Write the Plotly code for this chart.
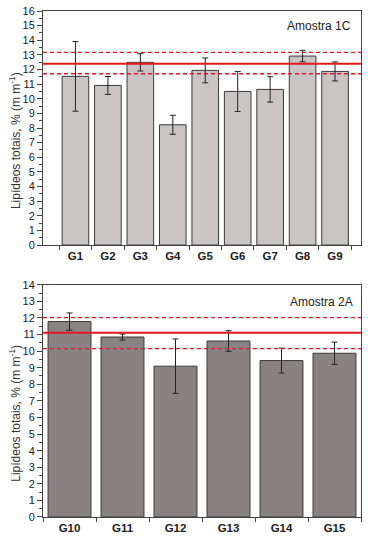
import plotly.graph_objects as go

# ---- data ----
cats_1c = ["G1", "G2", "G3", "G4", "G5", "G6", "G7", "G8", "G9"]
vals_1c = [11.53, 10.91, 12.49, 8.22, 11.94, 10.50, 10.64, 12.92, 11.87]
err_1c = [2.38, 0.61, 0.59, 0.65, 0.85, 1.37, 0.87, 0.39, 0.65]
ref_1c = [12.40, 13.17, 11.71]  # mean, upper, lower

cats_2a = ["G10", "G11", "G12", "G13", "G14", "G15"]
vals_2a = [11.78, 10.85, 9.09, 10.61, 9.43, 9.87]
err_2a = [0.52, 0.18, 1.64, 0.62, 0.75, 0.67]
ref_2a = [11.11, 12.02, 10.15]

labels = ["Amostra 1C", "Amostra 2A"]
ytitle = "Lipídeos totais, % (m m<sup>-1</sup>)"

FONT = "Liberation Sans, Arial, sans-serif"
RED = "#E8161C"
AX = "#444444"

fig = go.Figure()

fig.add_trace(go.Bar(
    x=cats_1c, y=vals_1c, xaxis="x", yaxis="y", width=0.82,
    marker=dict(color="#C9C5C5", line=dict(color="#3a3a3a", width=1)),
    error_y=dict(type="data", array=err_1c, color="#222222", thickness=1, width=3),
    showlegend=False))
fig.add_trace(go.Bar(
    x=cats_2a, y=vals_2a, xaxis="x2", yaxis="y2", width=0.81,
    marker=dict(color="#888382", line=dict(color="#3a3a3a", width=1)),
    error_y=dict(type="data", array=err_2a, color="#222222", thickness=1, width=3),
    showlegend=False))

def ref_lines(refs, xr, yr):
    shapes = []
    for i, v in enumerate(refs):
        shapes.append(dict(
            type="line", xref=xr + " domain", yref=yr, x0=0, x1=1, y0=v, y1=v,
            line=dict(color=RED, width=2 if i == 0 else 1.3,
                      dash="solid" if i == 0 else "4px,3px"),
            layer="above"))
    return shapes

shapes = ref_lines(ref_1c, "x", "y") + ref_lines(ref_2a, "x2", "y2")

common_x = dict(type="category", showline=True, linecolor=AX, linewidth=1, mirror=True,
                ticks="outside", ticklen=4, tickcolor=AX, tickson="boundaries",
                tickfont=dict(family=FONT, size=11.5, color="#222222", weight="bold"),
                showgrid=False, zeroline=False, automargin=False)
common_y = dict(showline=True, linecolor=AX, linewidth=1, mirror=True,
                ticks="outside", ticklen=5, tickcolor=AX, dtick=1,
                minor=dict(ticks="outside", ticklen=3, dtick=0.5, tickcolor=AX),
                tickfont=dict(family=FONT, size=11, color="#222222"),
                showgrid=False, zeroline=False, automargin=False)

title_font = dict(family=FONT, size=12, color="#333333")

fig.update_layout(
    width=368, height=541,
    margin=dict(l=43, r=7, t=11, b=24),
    paper_bgcolor="white", plot_bgcolor="white",
    xaxis=dict(common_x, domain=[0, 1], range=[-1, 8.8], anchor="y"),
    yaxis=dict(common_y, domain=[0.5375, 1.0], range=[0, 16], anchor="x"),
    xaxis2=dict(common_x, domain=[0, 1], range=[-0.5, 5.5], anchor="y2"),
    yaxis2=dict(common_y, domain=[0, 0.459], range=[0, 14], anchor="x2"),
    shapes=shapes,
    annotations=[
        dict(text=labels[0], xref="x domain", yref="y domain", x=0.975, y=0.975,
             xanchor="right", yanchor="top", showarrow=False,
             font=dict(family=FONT, size=12, color="#222222")),
        dict(text=labels[1], xref="x2 domain", yref="y2 domain", x=0.98, y=0.965,
             xanchor="right", yanchor="top", showarrow=False,
             font=dict(family=FONT, size=12, color="#222222")),
        dict(text=ytitle, xref="paper", yref="paper", x=-0.088, y=0.743,
             xanchor="center", yanchor="middle", textangle=-90, showarrow=False,
             font=title_font),
        dict(text=ytitle, xref="paper", yref="paper", x=-0.088, y=0.204,
             xanchor="center", yanchor="middle", textangle=-90, showarrow=False,
             font=title_font),
    ],
)

fig.write_html("out.html", config={"displayModeBar": False},
               post_script="document.body.style.margin='0';")
